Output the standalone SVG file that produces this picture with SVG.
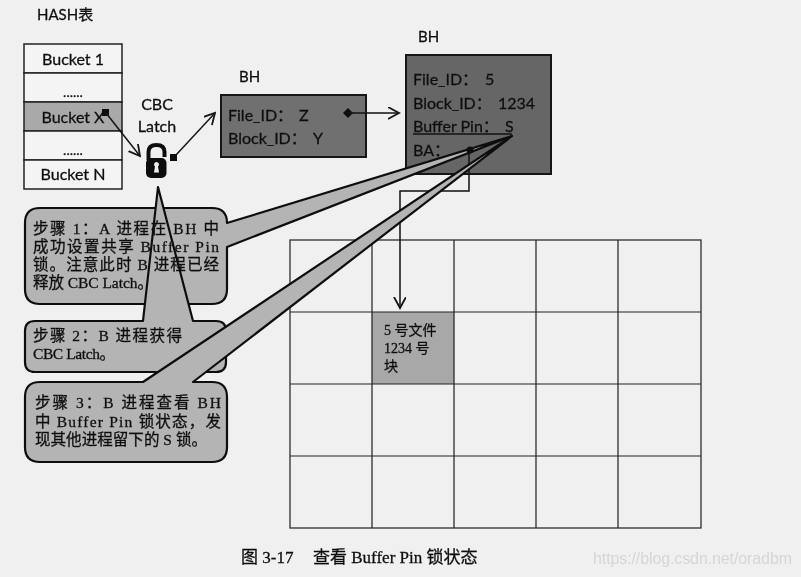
<svg xmlns="http://www.w3.org/2000/svg" width="801" height="577" viewBox="0 0 801 577">
<style>
.s{font-family:"Lato","Noto Sans CJK SC",sans-serif;font-size:16px;fill:#111;stroke:#111;stroke-width:.3}
.m{text-anchor:middle}
.b{font-family:"Liberation Serif","Noto Sans CJK SC",serif;font-size:15.500px;fill:#111;stroke:#111;stroke-width:.3}
.row{fill:#f4f4f4;stroke:#222;stroke-width:1.5}
.cell{fill:none;stroke:#222;stroke-width:1.2}
.box{stroke:#151515;stroke-width:2}
.call{fill:#b4b4b4;stroke:#111;stroke-width:2.200;stroke-linejoin:round}
.line{fill:none;stroke:#151515;stroke-width:1.500}
</style>
<defs>
<marker id="arr" markerWidth="13" markerHeight="13" refX="11" refY="6" orient="auto" markerUnits="userSpaceOnUse"><path d="M0,0 L11,6 L0,12" fill="none" stroke="#151515" stroke-width="1.800"/></marker>
<filter id="soft" x="-2%" y="-2%" width="104%" height="104%"><feGaussianBlur stdDeviation="0.45"/></filter>
</defs>
<rect width="801" height="577" fill="#f0f0f0"/>
<g filter="url(#soft)">
<text class="s" x="37" y="20" style="font-size:15px">HASH表</text>
<g id="hash-table">
<rect class="row" x="24" y="44" width="98" height="29"/>
<text class="s m" x="73" y="65">Bucket 1</text>
<rect class="row" x="24" y="73" width="98" height="29"/>
<text class="s m" x="73" y="97" style="font-size:14px">......</text>
<rect class="row" x="24" y="102" width="98" height="29" style="fill:#a9a9a9"/>
<text class="s m" x="73" y="123">Bucket X</text>
<rect class="row" x="24" y="131" width="98" height="29"/>
<text class="s m" x="73" y="155" style="font-size:14px">......</text>
<rect class="row" x="24" y="160" width="98" height="29"/>
<text class="s m" x="73" y="180">Bucket N</text>
</g>
<g id="grid">
<rect x="372" y="312" width="82" height="72" fill="#a8a8a8"/>
<rect class="cell" x="290" y="240" width="411" height="288"/>
<path class="cell" d="M372,240V528M454,240V528M536,240V528M618,240V528M290,312H701M290,384H701M290,456H701"/>
<text class="b" x="384" y="335" style="font-size:14px">5 号文件</text>
<text class="b" x="384" y="353" style="font-size:14px">1234 号</text>
<text class="b" x="384" y="371" style="font-size:14px">块</text>
</g>
<g id="cbc-latch">
<text class="s m" x="157" y="110">CBC</text>
<text class="s m" x="157" y="132">Latch</text>
<path d="M148.500,160 V152 Q148.500,145 156.500,145 Q164.500,145 164.500,152 V157" fill="none" stroke="#111" stroke-width="4"/>
<rect x="146" y="158" width="20.500" height="20" rx="5" fill="#111"/>
<path d="M156.500,162 a2.500,2.500 0 0 1 1.500,4.500 l1,6 h-5 l1,-6 a2.500,2.500 0 0 1 1.500,-4.500Z" fill="#f0f0f0"/>
</g>
<text class="s" x="239" y="82" style="font-size:15px">BH</text>
<g id="bh-small">
<rect class="box" x="221" y="95" width="145" height="62" fill="#6f6f6f"/>
<text class="s" x="228" y="121">File_ID：<tspan x="299">Z</tspan></text>
<text class="s" x="228" y="144">Block_ID：<tspan x="313">Y</tspan></text>
</g>
<text class="s" x="418" y="42" style="font-size:15px">BH</text>
<g id="bh-large">
<rect class="box" x="406" y="55" width="145" height="119" fill="#666"/>
<text class="s" x="413" y="85">File_ID：<tspan x="485">5</tspan></text>
<text class="s" x="413" y="109">Block_ID：<tspan x="498">1234</tspan></text>
<text class="s" x="413" y="132">Buffer Pin：<tspan x="505">S</tspan></text>
<text class="s" x="413" y="156">BA：</text>
</g>
<g id="connectors">
<rect x="102" y="109" width="7" height="7" fill="#111"/>
<path class="line" d="M106,113 L140,156" marker-end="url(#arr)"/>
<rect x="170" y="154" width="7" height="7" fill="#111"/>
<path class="line" d="M176,155 L215,113" marker-end="url(#arr)"/>
<path d="M348,108 L353,113 L348,118 L343,113Z" fill="#111"/>
<path class="line" d="M348,113 H399" marker-end="url(#arr)"/>
<path class="line" d="M413,134 H512"/>
<path class="line" d="M469,150 V191 H400 V308" marker-end="url(#arr)"/>
</g>
<g id="step1">
<path class="call" d="M40,208 H212 Q227,208 227,223 L512,136 L227,247 V289 Q227,304 212,304 H40 Q25,304 25,289 V223 Q25,208 40,208Z"/>
</g>
<g id="step2">
<path class="call" d="M35,321 H143 L158,187 L193,321 H216 Q226,321 226,331 V362 Q226,372 216,372 H35 Q25,372 25,362 V331 Q25,321 35,321Z"/>
</g>
<g id="step3">
<path class="call" d="M40,382 H143 L512,136 L193,382 H212 Q227,382 227,397 V447 Q227,462 212,462 H40 Q25,462 25,447 V397 Q25,382 40,382Z"/>
</g>
<circle cx="470" cy="150" r="3.500" fill="#111"/>
<g id="step-labels">
<text class="b" x="33" y="234" textLength="186" lengthAdjust="spacing">步骤 1：A 进程在 BH 中</text>
<text class="b" x="33" y="252" textLength="186" lengthAdjust="spacing">成功设置共享 Buffer Pin</text>
<text class="b" x="33" y="270" textLength="186" lengthAdjust="spacing">锁。注意此时 B 进程已经</text>
<text class="b" x="33" y="288" textLength="120" lengthAdjust="spacing">释放 CBC Latch。</text>
<text class="b" x="33" y="341" textLength="149" lengthAdjust="spacing">步骤 2：B 进程获得</text>
<text class="b" x="33" y="359" textLength="82" lengthAdjust="spacing">CBC Latch。</text>
<text class="b" x="35" y="408" textLength="186" lengthAdjust="spacing">步骤 3：B 进程查看 BH</text>
<text class="b" x="35" y="427" textLength="186" lengthAdjust="spacing">中 Buffer Pin 锁状态，发</text>
<text class="b" x="35" y="445" textLength="172" lengthAdjust="spacing">现其他进程留下的 S 锁。</text>
</g>
<text class="b" x="241" y="563" style="font-size:17px">图 3-17<tspan x="313">查看 Buffer Pin 锁状态</tspan></text>
<text x="593" y="564" font-family="Liberation Sans, sans-serif" font-size="16" fill="#d6d6d6" textLength="199">https://blog.csdn.net/oradbm</text>
</g>
</svg>
